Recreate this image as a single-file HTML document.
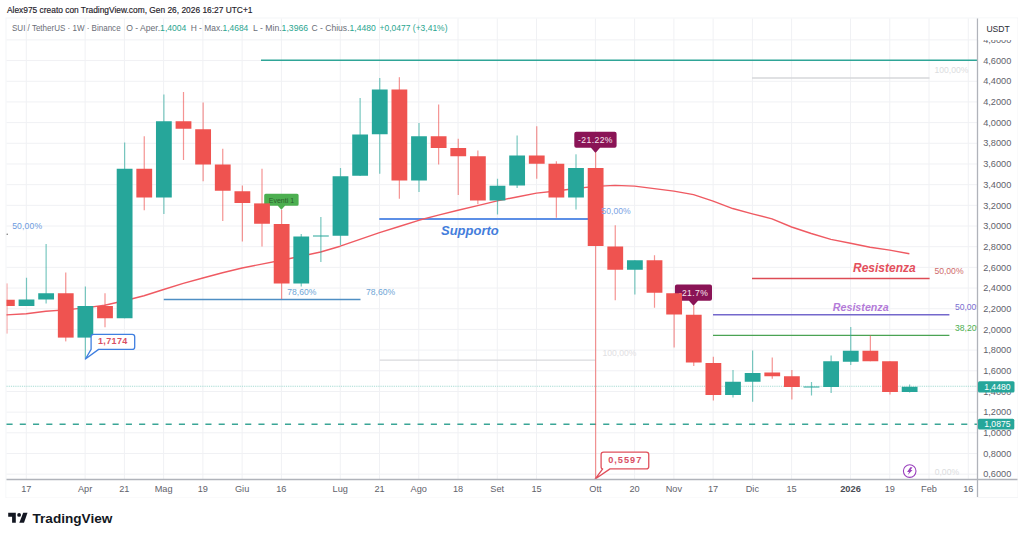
<!DOCTYPE html>
<html><head><meta charset="utf-8">
<style>
html,body{margin:0;padding:0;background:#fff;width:1024px;height:538px;overflow:hidden}
svg{display:block;font-family:"Liberation Sans",sans-serif}
</style></head><body>
<svg width="1024" height="538" viewBox="0 0 1024 538">
<defs><clipPath id="cl"><rect x="6.5" y="18.5" width="971.0" height="461.0"/></clipPath></defs>
<rect x="0" y="0" width="1024" height="538" fill="#fff"/>
<text x="7" y="13.4" font-size="8.4" fill="#1e2028" stroke="#1e2028" stroke-width="0.15">Alex975 creato con TradingView.com, Gen 26, 2026 16:27 UTC+1</text>
<rect x="6.0" y="18.0" width="1011.5" height="479.5" fill="none" stroke="#f4f5f7" stroke-width="1"/>
<line x1="26.25" y1="18.5" x2="26.25" y2="479.5" stroke="#f0f1f4" stroke-width="1"/>
<line x1="85.12" y1="18.5" x2="85.12" y2="479.5" stroke="#f0f1f4" stroke-width="1"/>
<line x1="124.38" y1="18.5" x2="124.38" y2="479.5" stroke="#f0f1f4" stroke-width="1"/>
<line x1="163.62" y1="18.5" x2="163.62" y2="479.5" stroke="#f0f1f4" stroke-width="1"/>
<line x1="202.88" y1="18.5" x2="202.88" y2="479.5" stroke="#f0f1f4" stroke-width="1"/>
<line x1="242.12" y1="18.5" x2="242.12" y2="479.5" stroke="#f0f1f4" stroke-width="1"/>
<line x1="281.38" y1="18.5" x2="281.38" y2="479.5" stroke="#f0f1f4" stroke-width="1"/>
<line x1="340.25" y1="18.5" x2="340.25" y2="479.5" stroke="#f0f1f4" stroke-width="1"/>
<line x1="379.50" y1="18.5" x2="379.50" y2="479.5" stroke="#f0f1f4" stroke-width="1"/>
<line x1="418.75" y1="18.5" x2="418.75" y2="479.5" stroke="#f0f1f4" stroke-width="1"/>
<line x1="458.00" y1="18.5" x2="458.00" y2="479.5" stroke="#f0f1f4" stroke-width="1"/>
<line x1="497.25" y1="18.5" x2="497.25" y2="479.5" stroke="#f0f1f4" stroke-width="1"/>
<line x1="536.50" y1="18.5" x2="536.50" y2="479.5" stroke="#f0f1f4" stroke-width="1"/>
<line x1="595.38" y1="18.5" x2="595.38" y2="479.5" stroke="#f0f1f4" stroke-width="1"/>
<line x1="634.62" y1="18.5" x2="634.62" y2="479.5" stroke="#f0f1f4" stroke-width="1"/>
<line x1="673.88" y1="18.5" x2="673.88" y2="479.5" stroke="#f0f1f4" stroke-width="1"/>
<line x1="713.12" y1="18.5" x2="713.12" y2="479.5" stroke="#f0f1f4" stroke-width="1"/>
<line x1="752.38" y1="18.5" x2="752.38" y2="479.5" stroke="#f0f1f4" stroke-width="1"/>
<line x1="791.62" y1="18.5" x2="791.62" y2="479.5" stroke="#f0f1f4" stroke-width="1"/>
<line x1="850.50" y1="18.5" x2="850.50" y2="479.5" stroke="#f0f1f4" stroke-width="1"/>
<line x1="889.75" y1="18.5" x2="889.75" y2="479.5" stroke="#f0f1f4" stroke-width="1"/>
<line x1="929.00" y1="18.5" x2="929.00" y2="479.5" stroke="#f0f1f4" stroke-width="1"/>
<line x1="968.25" y1="18.5" x2="968.25" y2="479.5" stroke="#f0f1f4" stroke-width="1"/>
<line x1="6.5" y1="474.17" x2="977.5" y2="474.17" stroke="#f0f1f4" stroke-width="1"/>
<line x1="6.5" y1="453.49" x2="977.5" y2="453.49" stroke="#f0f1f4" stroke-width="1"/>
<line x1="6.5" y1="432.81" x2="977.5" y2="432.81" stroke="#f0f1f4" stroke-width="1"/>
<line x1="6.5" y1="412.13" x2="977.5" y2="412.13" stroke="#f0f1f4" stroke-width="1"/>
<line x1="6.5" y1="391.45" x2="977.5" y2="391.45" stroke="#f0f1f4" stroke-width="1"/>
<line x1="6.5" y1="370.77" x2="977.5" y2="370.77" stroke="#f0f1f4" stroke-width="1"/>
<line x1="6.5" y1="350.09" x2="977.5" y2="350.09" stroke="#f0f1f4" stroke-width="1"/>
<line x1="6.5" y1="329.41" x2="977.5" y2="329.41" stroke="#f0f1f4" stroke-width="1"/>
<line x1="6.5" y1="308.73" x2="977.5" y2="308.73" stroke="#f0f1f4" stroke-width="1"/>
<line x1="6.5" y1="288.05" x2="977.5" y2="288.05" stroke="#f0f1f4" stroke-width="1"/>
<line x1="6.5" y1="267.37" x2="977.5" y2="267.37" stroke="#f0f1f4" stroke-width="1"/>
<line x1="6.5" y1="246.69" x2="977.5" y2="246.69" stroke="#f0f1f4" stroke-width="1"/>
<line x1="6.5" y1="226.01" x2="977.5" y2="226.01" stroke="#f0f1f4" stroke-width="1"/>
<line x1="6.5" y1="205.33" x2="977.5" y2="205.33" stroke="#f0f1f4" stroke-width="1"/>
<line x1="6.5" y1="184.65" x2="977.5" y2="184.65" stroke="#f0f1f4" stroke-width="1"/>
<line x1="6.5" y1="163.97" x2="977.5" y2="163.97" stroke="#f0f1f4" stroke-width="1"/>
<line x1="6.5" y1="143.29" x2="977.5" y2="143.29" stroke="#f0f1f4" stroke-width="1"/>
<line x1="6.5" y1="122.61" x2="977.5" y2="122.61" stroke="#f0f1f4" stroke-width="1"/>
<line x1="6.5" y1="101.93" x2="977.5" y2="101.93" stroke="#f0f1f4" stroke-width="1"/>
<line x1="6.5" y1="81.25" x2="977.5" y2="81.25" stroke="#f0f1f4" stroke-width="1"/>
<line x1="6.5" y1="60.57" x2="977.5" y2="60.57" stroke="#f0f1f4" stroke-width="1"/>
<line x1="6.5" y1="39.89" x2="977.5" y2="39.89" stroke="#f0f1f4" stroke-width="1"/>
<line x1="261" y1="60.3" x2="977.5" y2="60.3" stroke="#2fa597" stroke-width="1.6"/>
<line x1="752" y1="78" x2="929.5" y2="78" stroke="#d6d7da" stroke-width="1.5"/>
<text x="934.5" y="72.8" font-size="8.6" fill="#dcdde0">100,00%</text>
<line x1="379.25" y1="219" x2="590" y2="219" stroke="#5c8fe6" stroke-width="1.8"/>
<line x1="163.75" y1="299.5" x2="360.5" y2="299.5" stroke="#4f8fc4" stroke-width="1.5"/>
<line x1="379.75" y1="360.2" x2="595.25" y2="360.2" stroke="#d9dadd" stroke-width="1.3"/>
<line x1="752" y1="278.5" x2="929.6" y2="278.5" stroke="#dd4b55" stroke-width="1.6"/>
<line x1="713" y1="314.8" x2="949.4" y2="314.8" stroke="#7468cc" stroke-width="1.6"/>
<line x1="713" y1="335.4" x2="949.4" y2="335.4" stroke="#4aa353" stroke-width="1.4"/>
<line x1="6.5" y1="386.25" x2="977.5" y2="386.25" stroke="#a6dbd3" stroke-width="1" stroke-dasharray="1.2 1"/>
<line x1="6.5" y1="424.25" x2="977.5" y2="424.25" stroke="#3aa596" stroke-width="1.5" stroke-dasharray="6.1 7.16"/>
<polyline points="6.50,314.90 26.25,313.74 45.88,311.25 65.50,309.85 85.12,307.85 104.75,305.26 124.38,300.80 144.00,295.74 163.62,289.53 183.25,283.35 202.88,278.04 222.50,272.78 242.12,268.02 261.75,264.08 281.38,260.28 301.00,256.27 320.62,251.99 340.25,246.21 359.88,239.34 379.50,232.61 399.12,226.46 418.75,220.30 438.38,215.12 458.00,210.28 477.62,205.57 497.25,200.86 516.88,196.96 536.50,193.08 556.12,191.00 575.75,188.46 595.38,186.33 615.00,185.36 634.62,186.09 654.25,188.59 673.88,191.10 693.50,194.67 713.12,201.19 732.75,208.54 752.38,213.88 772.00,218.81 791.62,226.98 811.25,233.52 830.88,239.36 850.50,243.28 870.12,247.20 889.75,250.18 909.38,253.80" fill="none" stroke="#ef5a62" stroke-width="1.4" stroke-linejoin="round"/>
<!-- -21.22% -->
<path d="M576.3 131.7 H614.6 Q616.6 131.7 616.6 133.7 V145.8 Q616.6 147.8 614.6 147.8 H600 L595.5 152.9 L591 147.8 H576.3 Q574.3 147.8 574.3 145.8 V133.7 Q574.3 131.7 576.3 131.7 Z" fill="#8a1456"/>
<text x="595.5" y="142.8" text-anchor="middle" font-size="8.6" fill="#f6e6ee" letter-spacing="0.4">-21.22%</text>
<!-- -21.7% -->
<path d="M676.9 284.4 H710 Q712 284.4 712 286.4 V298.7 Q712 300.7 710 300.7 H698 L693.5 305.8 L689 300.7 H676.9 Q674.9 300.7 674.9 298.7 V286.4 Q674.9 284.4 676.9 284.4 Z" fill="#8a1456"/>
<text x="693.5" y="295.8" text-anchor="middle" font-size="8.6" fill="#f6e6ee" letter-spacing="0.4">-21.7%</text>
<!-- Eventi 1 -->
<path d="M265.7 193.7 H297.1 Q298.6 193.7 298.6 195.2 V204.3 Q298.6 205.8 297.1 205.8 H285 L281.4 209.7 L277.8 205.8 H265.7 Q264.2 205.8 264.2 204.3 V195.2 Q264.2 193.7 265.7 193.7 Z" fill="#4caf50"/>
<text x="281.4" y="202.6" text-anchor="middle" font-size="7" fill="#2b5e2e">Eventi  1</text>

<g clip-path="url(#cl)">
<rect x="6.28" y="283.4" width="1.2" height="50.20" fill="#ef5350" fill-opacity="0.62"/>
<rect x="-1.03" y="299.75" width="15.8" height="6.25" fill="#ef5350"/>
<rect x="25.90" y="277.75" width="1.2" height="28.25" fill="#26a69a" fill-opacity="0.62"/>
<rect x="18.60" y="299.5" width="15.8" height="6.50" fill="#26a69a"/>
<rect x="45.52" y="244" width="1.2" height="59.50" fill="#26a69a" fill-opacity="0.62"/>
<rect x="38.23" y="293.25" width="15.8" height="6.25" fill="#26a69a"/>
<rect x="65.15" y="272.5" width="1.2" height="68.90" fill="#ef5350" fill-opacity="0.62"/>
<rect x="57.85" y="293.25" width="15.8" height="44.35" fill="#ef5350"/>
<rect x="84.78" y="286.5" width="1.2" height="72.00" fill="#26a69a" fill-opacity="0.62"/>
<rect x="77.47" y="306" width="15.8" height="31.60" fill="#26a69a"/>
<rect x="104.40" y="293.25" width="1.2" height="34.00" fill="#ef5350" fill-opacity="0.62"/>
<rect x="97.10" y="306" width="15.8" height="12.25" fill="#ef5350"/>
<rect x="124.03" y="142.5" width="1.2" height="175.75" fill="#26a69a" fill-opacity="0.62"/>
<rect x="116.72" y="168.75" width="15.8" height="149.50" fill="#26a69a"/>
<rect x="143.65" y="136.25" width="1.2" height="74.00" fill="#ef5350" fill-opacity="0.62"/>
<rect x="136.35" y="168.75" width="15.8" height="28.75" fill="#ef5350"/>
<rect x="163.28" y="94.5" width="1.2" height="119.50" fill="#26a69a" fill-opacity="0.62"/>
<rect x="155.97" y="121.25" width="15.8" height="76.25" fill="#26a69a"/>
<rect x="182.90" y="92" width="1.2" height="68.00" fill="#ef5350" fill-opacity="0.62"/>
<rect x="175.60" y="121.25" width="15.8" height="7.50" fill="#ef5350"/>
<rect x="202.53" y="102.5" width="1.2" height="78.75" fill="#ef5350" fill-opacity="0.62"/>
<rect x="195.22" y="129.25" width="15.8" height="35.25" fill="#ef5350"/>
<rect x="222.15" y="148.75" width="1.2" height="72.25" fill="#ef5350" fill-opacity="0.62"/>
<rect x="214.85" y="164.5" width="15.8" height="26.25" fill="#ef5350"/>
<rect x="241.78" y="185.5" width="1.2" height="56.00" fill="#ef5350" fill-opacity="0.62"/>
<rect x="234.47" y="191.25" width="15.8" height="11.75" fill="#ef5350"/>
<rect x="261.40" y="168.75" width="1.2" height="77.75" fill="#ef5350" fill-opacity="0.62"/>
<rect x="254.10" y="203.4" width="15.8" height="20.35" fill="#ef5350"/>
<rect x="281.02" y="210" width="1.2" height="89.00" fill="#ef5350" fill-opacity="0.62"/>
<rect x="273.73" y="224" width="15.8" height="59.50" fill="#ef5350"/>
<rect x="300.65" y="234" width="1.2" height="52.50" fill="#26a69a" fill-opacity="0.62"/>
<rect x="293.35" y="236.5" width="15.8" height="47.00" fill="#26a69a"/>
<rect x="320.27" y="217" width="1.2" height="45.00" fill="#26a69a" fill-opacity="0.62"/>
<rect x="312.98" y="235.5" width="15.8" height="1.00" fill="#26a69a"/>
<rect x="339.90" y="168" width="1.2" height="77.25" fill="#26a69a" fill-opacity="0.62"/>
<rect x="332.60" y="176.25" width="15.8" height="59.50" fill="#26a69a"/>
<rect x="359.52" y="98" width="1.2" height="78.00" fill="#26a69a" fill-opacity="0.62"/>
<rect x="352.23" y="134.5" width="15.8" height="41.25" fill="#26a69a"/>
<rect x="379.15" y="78" width="1.2" height="95.75" fill="#26a69a" fill-opacity="0.62"/>
<rect x="371.85" y="89.5" width="15.8" height="44.75" fill="#26a69a"/>
<rect x="398.77" y="77.2" width="1.2" height="121.55" fill="#ef5350" fill-opacity="0.62"/>
<rect x="391.48" y="89.5" width="15.8" height="91.00" fill="#ef5350"/>
<rect x="418.40" y="123" width="1.2" height="69.00" fill="#26a69a" fill-opacity="0.62"/>
<rect x="411.10" y="136.25" width="15.8" height="44.25" fill="#26a69a"/>
<rect x="438.02" y="104.5" width="1.2" height="60.00" fill="#ef5350" fill-opacity="0.62"/>
<rect x="430.73" y="136.25" width="15.8" height="11.75" fill="#ef5350"/>
<rect x="457.65" y="138.75" width="1.2" height="56.25" fill="#ef5350" fill-opacity="0.62"/>
<rect x="450.35" y="148" width="15.8" height="8.25" fill="#ef5350"/>
<rect x="477.27" y="150.5" width="1.2" height="53.70" fill="#ef5350" fill-opacity="0.62"/>
<rect x="469.98" y="156.25" width="15.8" height="44.25" fill="#ef5350"/>
<rect x="496.90" y="178.75" width="1.2" height="35.75" fill="#26a69a" fill-opacity="0.62"/>
<rect x="489.60" y="185.75" width="15.8" height="14.75" fill="#26a69a"/>
<rect x="516.52" y="135.5" width="1.2" height="52.50" fill="#26a69a" fill-opacity="0.62"/>
<rect x="509.23" y="155.5" width="15.8" height="30.00" fill="#26a69a"/>
<rect x="536.15" y="126.25" width="1.2" height="52.50" fill="#ef5350" fill-opacity="0.62"/>
<rect x="528.85" y="155.5" width="15.8" height="8.25" fill="#ef5350"/>
<rect x="555.77" y="161.25" width="1.2" height="56.50" fill="#ef5350" fill-opacity="0.62"/>
<rect x="548.48" y="163.75" width="15.8" height="33.75" fill="#ef5350"/>
<rect x="575.40" y="154.3" width="1.2" height="55.20" fill="#26a69a" fill-opacity="0.62"/>
<rect x="568.10" y="168" width="15.8" height="29.50" fill="#26a69a"/>
<rect x="595.02" y="152.5" width="1.2" height="326.00" fill="#ef5350" fill-opacity="0.62"/>
<rect x="587.73" y="168" width="15.8" height="78.00" fill="#ef5350"/>
<rect x="614.65" y="225.25" width="1.2" height="75.00" fill="#ef5350" fill-opacity="0.62"/>
<rect x="607.35" y="246.5" width="15.8" height="23.25" fill="#ef5350"/>
<rect x="634.27" y="260.25" width="1.2" height="34.25" fill="#26a69a" fill-opacity="0.62"/>
<rect x="626.98" y="260.25" width="15.8" height="9.50" fill="#26a69a"/>
<rect x="653.90" y="255.25" width="1.2" height="52.50" fill="#ef5350" fill-opacity="0.62"/>
<rect x="646.60" y="260.25" width="15.8" height="32.50" fill="#ef5350"/>
<rect x="673.52" y="293.25" width="1.2" height="54.25" fill="#ef5350" fill-opacity="0.62"/>
<rect x="666.23" y="293.25" width="15.8" height="21.25" fill="#ef5350"/>
<rect x="693.15" y="305.5" width="1.2" height="60.50" fill="#ef5350" fill-opacity="0.62"/>
<rect x="685.85" y="314.75" width="15.8" height="47.75" fill="#ef5350"/>
<rect x="712.77" y="356.75" width="1.2" height="43.75" fill="#ef5350" fill-opacity="0.62"/>
<rect x="705.48" y="363" width="15.8" height="32.00" fill="#ef5350"/>
<rect x="732.40" y="370" width="1.2" height="27.50" fill="#26a69a" fill-opacity="0.62"/>
<rect x="725.10" y="381.75" width="15.8" height="13.25" fill="#26a69a"/>
<rect x="752.02" y="350.5" width="1.2" height="51.25" fill="#26a69a" fill-opacity="0.62"/>
<rect x="744.73" y="373" width="15.8" height="8.75" fill="#26a69a"/>
<rect x="771.65" y="357.5" width="1.2" height="21.25" fill="#ef5350" fill-opacity="0.62"/>
<rect x="764.35" y="372.5" width="15.8" height="3.75" fill="#ef5350"/>
<rect x="791.27" y="370" width="1.2" height="29.50" fill="#ef5350" fill-opacity="0.62"/>
<rect x="783.98" y="376.25" width="15.8" height="10.75" fill="#ef5350"/>
<rect x="810.90" y="382" width="1.2" height="13.50" fill="#26a69a" fill-opacity="0.62"/>
<rect x="803.60" y="386.5" width="15.8" height="1.00" fill="#26a69a"/>
<rect x="830.52" y="355.5" width="1.2" height="37.50" fill="#26a69a" fill-opacity="0.62"/>
<rect x="823.23" y="361.25" width="15.8" height="25.75" fill="#26a69a"/>
<rect x="850.15" y="327" width="1.2" height="38.00" fill="#26a69a" fill-opacity="0.62"/>
<rect x="842.85" y="350.75" width="15.8" height="11.00" fill="#26a69a"/>
<rect x="869.77" y="335.5" width="1.2" height="25.75" fill="#ef5350" fill-opacity="0.62"/>
<rect x="862.48" y="350.75" width="15.8" height="10.50" fill="#ef5350"/>
<rect x="889.40" y="361.25" width="1.2" height="33.25" fill="#ef5350" fill-opacity="0.62"/>
<rect x="882.10" y="361.25" width="15.8" height="30.75" fill="#ef5350"/>
<rect x="909.02" y="384.5" width="1.2" height="8.00" fill="#26a69a" fill-opacity="0.62"/>
<rect x="901.73" y="386.75" width="15.8" height="5.25" fill="#26a69a"/>
</g>
<!-- legend -->
<text x="12" y="31.2" font-size="8.6" fill="#6a6d76" textLength="108.6" lengthAdjust="spacingAndGlyphs">SUI / TetherUS · 1W · Binance</text>
<text x="126.2" y="31.2" font-size="8.6" fill="#6a6d76" textLength="60.2" lengthAdjust="spacingAndGlyphs">O - Aper.<tspan fill="#2aa58f">1,4004</tspan></text>
<text x="190.7" y="31.2" font-size="8.6" fill="#6a6d76" textLength="57.6" lengthAdjust="spacingAndGlyphs">H - Max.<tspan fill="#2aa58f">1,4684</tspan></text>
<text x="253.1" y="31.2" font-size="8.6" fill="#6a6d76" textLength="55" lengthAdjust="spacingAndGlyphs">L - Min.<tspan fill="#2aa58f">1,3966</tspan></text>
<text x="311.5" y="31.2" font-size="8.6" fill="#6a6d76" textLength="64.2" lengthAdjust="spacingAndGlyphs">C - Chius.<tspan fill="#2aa58f">1,4480</tspan></text>
<text x="379.6" y="31.2" font-size="8.6" fill="#2aa58f" textLength="67.9" lengthAdjust="spacingAndGlyphs">+0,0477 (+3,41%)</text>
<!-- labels on chart -->
<text x="12.2" y="228.8" font-size="8.6" fill="#6d9be0" letter-spacing="0.15">50,00%</text>
<circle cx="7.2" cy="234.2" r="0.7" fill="#666"/>
<text x="601.5" y="214.1" font-size="8.6" fill="#7ba3e4">50,00%</text>
<text x="287.25" y="295.1" font-size="8.6" fill="#6fa6d6">78,60%</text>
<text x="366" y="295.1" font-size="8.6" fill="#6fa6d6">78,60%</text>
<text x="602.5" y="356.3" font-size="8.6" fill="#dfe0e3">100,00%</text>
<text x="441" y="235" font-size="13" font-weight="bold" font-style="italic" fill="#437ddc">Supporto</text>
<text x="853" y="272.1" font-size="12" font-weight="bold" font-style="italic" fill="#e44f5c">Resistenza</text>
<text x="934.4" y="273.9" font-size="8.6" fill="#cf6b6b">50,00%</text>
<text x="832.8" y="311.1" font-size="10.7" font-weight="bold" font-style="italic" fill="#b37ad8">Resistenza</text>
<g clip-path="url(#cl)">
<text x="954.9" y="310" font-size="8.6" fill="#7a6ed0">50,00%</text>
<text x="955" y="330.8" font-size="8.6" fill="#4caf50">38,20%</text>
</g>
<text x="934.7" y="475" font-size="8.6" fill="#dcdde0">0,00%</text>
<!-- 1,7174 callout -->
<path d="M93.6 334.3 H132.2 Q134.7 334.3 134.7 336.8 V346.9 Q134.7 349.4 132.2 349.4 H98.6 L85.4 359 L91.1 349.4 V346.9 V336.8 Q91.1 334.3 93.6 334.3 Z" fill="#fff" stroke="#3f7fe0" stroke-width="1.3" stroke-linejoin="round"/>
<text x="112.8" y="344.1" text-anchor="middle" font-size="9" font-weight="bold" fill="#d94f64" letter-spacing="0.35">1,7174</text>
<!-- 0,5597 callout -->
<path d="M603.6 452.1 H646.25 Q648.75 452.1 648.75 454.6 V466.4 Q648.75 468.9 646.25 468.9 H610 L595.2 479 L602.7 468.9 Q601.1 468.9 601.1 466.4 V454.6 Q601.1 452.1 603.6 452.1 Z" fill="#fff" stroke="#e0505c" stroke-width="1.3" stroke-linejoin="round"/>
<text x="625.2" y="463.1" text-anchor="middle" font-size="9.2" font-weight="bold" fill="#d94f64" letter-spacing="1.0">0,5597</text>
<!-- lightning -->
<circle cx="909.7" cy="471.1" r="6.3" fill="#fff" stroke="#9a40bd" stroke-width="1.1"/>
<path d="M910.3 467.3 H912.5 L910.6 470.1 H912.5 L907.8 475.1 L909.1 472.0 H907.1 Z" fill="#9a40bd"/>
<!-- axes -->
<rect x="978.0" y="18.5" width="39.5" height="478.5" fill="#fff"/>
<rect x="6.5" y="480.0" width="971.0" height="17.5" fill="#fff"/>
<line x1="977.5" y1="18.5" x2="977.5" y2="497" stroke="#b0b3ba" stroke-width="1.3"/>
<line x1="6.5" y1="479.5" x2="1017.5" y2="479.5" stroke="#b0b3ba" stroke-width="1.3"/>
<text x="1011.3" y="477.37" text-anchor="end" font-size="9.2" fill="#5f626b">0,6000</text>
<text x="1011.3" y="456.69" text-anchor="end" font-size="9.2" fill="#5f626b">0,8000</text>
<text x="1011.3" y="436.01" text-anchor="end" font-size="9.2" fill="#5f626b">1,0000</text>
<text x="1011.3" y="415.33" text-anchor="end" font-size="9.2" fill="#5f626b">1,2000</text>
<text x="1011.3" y="394.65" text-anchor="end" font-size="9.2" fill="#5f626b">1,4000</text>
<text x="1011.3" y="373.97" text-anchor="end" font-size="9.2" fill="#5f626b">1,6000</text>
<text x="1011.3" y="353.29" text-anchor="end" font-size="9.2" fill="#5f626b">1,8000</text>
<text x="1011.3" y="332.61" text-anchor="end" font-size="9.2" fill="#5f626b">2,0000</text>
<text x="1011.3" y="311.93" text-anchor="end" font-size="9.2" fill="#5f626b">2,2000</text>
<text x="1011.3" y="291.25" text-anchor="end" font-size="9.2" fill="#5f626b">2,4000</text>
<text x="1011.3" y="270.57" text-anchor="end" font-size="9.2" fill="#5f626b">2,6000</text>
<text x="1011.3" y="249.89" text-anchor="end" font-size="9.2" fill="#5f626b">2,8000</text>
<text x="1011.3" y="229.21" text-anchor="end" font-size="9.2" fill="#5f626b">3,0000</text>
<text x="1011.3" y="208.53" text-anchor="end" font-size="9.2" fill="#5f626b">3,2000</text>
<text x="1011.3" y="187.85" text-anchor="end" font-size="9.2" fill="#5f626b">3,4000</text>
<text x="1011.3" y="167.17" text-anchor="end" font-size="9.2" fill="#5f626b">3,6000</text>
<text x="1011.3" y="146.49" text-anchor="end" font-size="9.2" fill="#5f626b">3,8000</text>
<text x="1011.3" y="125.81" text-anchor="end" font-size="9.2" fill="#5f626b">4,0000</text>
<text x="1011.3" y="105.13" text-anchor="end" font-size="9.2" fill="#5f626b">4,2000</text>
<text x="1011.3" y="84.45" text-anchor="end" font-size="9.2" fill="#5f626b">4,4000</text>
<text x="1011.3" y="63.77" text-anchor="end" font-size="9.2" fill="#5f626b">4,6000</text>
<text x="1011.3" y="43.09" text-anchor="end" font-size="9.2" fill="#5f626b">4,8000</text>
<rect x="978.5" y="19.0" width="38" height="21" fill="#fff"/>
<text x="986.4" y="31.9" font-size="8.6" fill="#2a2d35">USDT</text>
<rect x="978" y="381.2" width="36.5" height="11.2" rx="1.5" fill="#26a69a"/>
<text x="1010.5" y="389.8" text-anchor="end" font-size="8.6" fill="#fff">1,4480</text>
<rect x="978" y="418.7" width="36.3" height="10.8" rx="1.5" fill="#26a69a"/>
<text x="1010.5" y="427.3" text-anchor="end" font-size="8.6" fill="#fff">1,0875</text>
<text x="26.25" y="492.2" text-anchor="middle" font-size="9.2" fill="#5f626b">17</text>
<text x="85.12" y="492.2" text-anchor="middle" font-size="9.2" fill="#5f626b">Apr</text>
<text x="124.38" y="492.2" text-anchor="middle" font-size="9.2" fill="#5f626b">21</text>
<text x="163.62" y="492.2" text-anchor="middle" font-size="9.2" fill="#5f626b">Mag</text>
<text x="202.88" y="492.2" text-anchor="middle" font-size="9.2" fill="#5f626b">19</text>
<text x="242.12" y="492.2" text-anchor="middle" font-size="9.2" fill="#5f626b">Giu</text>
<text x="281.38" y="492.2" text-anchor="middle" font-size="9.2" fill="#5f626b">16</text>
<text x="340.25" y="492.2" text-anchor="middle" font-size="9.2" fill="#5f626b">Lug</text>
<text x="379.50" y="492.2" text-anchor="middle" font-size="9.2" fill="#5f626b">21</text>
<text x="418.75" y="492.2" text-anchor="middle" font-size="9.2" fill="#5f626b">Ago</text>
<text x="458.00" y="492.2" text-anchor="middle" font-size="9.2" fill="#5f626b">18</text>
<text x="497.25" y="492.2" text-anchor="middle" font-size="9.2" fill="#5f626b">Set</text>
<text x="536.50" y="492.2" text-anchor="middle" font-size="9.2" fill="#5f626b">15</text>
<text x="595.38" y="492.2" text-anchor="middle" font-size="9.2" fill="#5f626b">Ott</text>
<text x="634.62" y="492.2" text-anchor="middle" font-size="9.2" fill="#5f626b">20</text>
<text x="673.88" y="492.2" text-anchor="middle" font-size="9.2" fill="#5f626b">Nov</text>
<text x="713.12" y="492.2" text-anchor="middle" font-size="9.2" fill="#5f626b">17</text>
<text x="752.38" y="492.2" text-anchor="middle" font-size="9.2" fill="#5f626b">Dic</text>
<text x="791.62" y="492.2" text-anchor="middle" font-size="9.2" fill="#5f626b">15</text>
<text x="850.50" y="492.2" text-anchor="middle" font-size="9.3" font-weight="bold" fill="#4a4d55">2026</text>
<text x="889.75" y="492.2" text-anchor="middle" font-size="9.2" fill="#5f626b">19</text>
<text x="929.00" y="492.2" text-anchor="middle" font-size="9.2" fill="#5f626b">Feb</text>
<text x="968.25" y="492.2" text-anchor="middle" font-size="9.2" fill="#5f626b">16</text>
<!-- TradingView logo -->
<g fill="#131722">
<path d="M8.2 512.8 H15.8 V522.7 H12.1 V516.7 H8.2 Z"/>
<circle cx="19.1" cy="514.9" r="1.9"/>
<path d="M23.2 512.8 H27.5 L24 522.7 H19.3 Z"/>
</g>
<text x="32.5" y="522.7" font-size="13.6" font-weight="bold" fill="#131722">TradingView</text>
</svg>
</body></html>
